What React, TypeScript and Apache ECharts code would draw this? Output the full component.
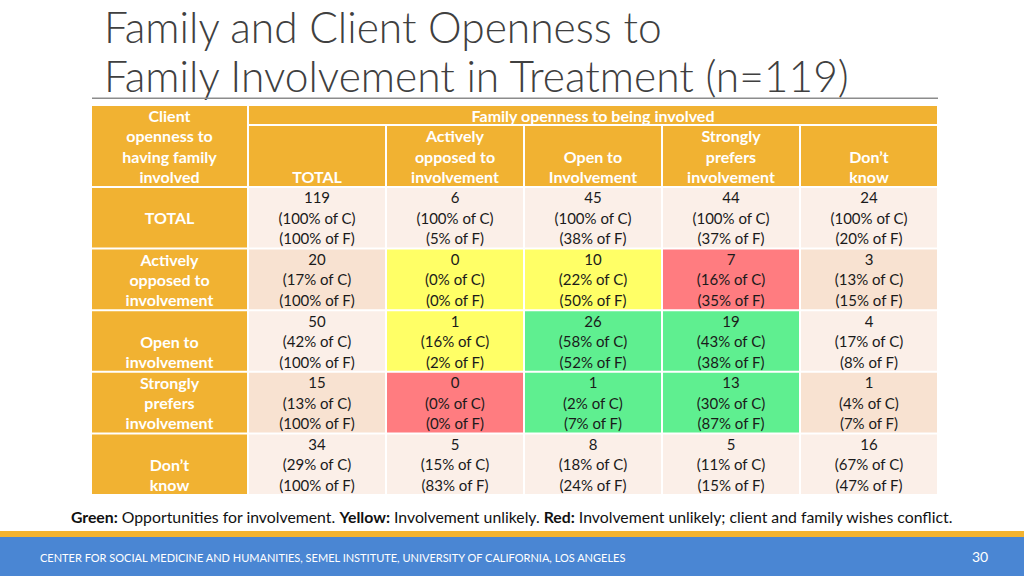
import React, { useEffect, useRef } from "react";
import * as echarts from "echarts";

// ---------- data ----------
const titleLines = ["Family and Client Openness to", "Family Involvement in Treatment (n=119)"];
const cornerLabel = "Client\nopenness to\nhaving family\ninvolved";
const topHeaderLabel = "Family openness to being involved";
const columnKeys = ["TOTAL", "Actively opposed", "Open", "Strongly prefers", "Don't know"];
const columnLabels = ["\n\nTOTAL", "Actively\nopposed to\ninvolvement", "\nOpen to\nInvolvement", "Strongly\nprefers\ninvolvement", "\nDon\u2019t\nknow"];
const rowKeys = ["TOTAL", "Actively opposed", "Open", "Strongly prefers", "Don't know"];
const rowLabels = ["TOTAL", "Actively\nopposed to\ninvolvement", "\nOpen to\ninvolvement", "Strongly\nprefers\ninvolvement", "\nDon\u2019t\nknow"];

const counts = [
  [119, 6, 45, 44, 24],
  [20, 0, 10, 7, 3],
  [50, 1, 26, 19, 4],
  [15, 0, 1, 13, 1],
  [34, 5, 8, 5, 16],
];
const pctOfClient = [
  [100, 100, 100, 100, 100],
  [17, 0, 22, 16, 13],
  [42, 16, 58, 43, 17],
  [13, 0, 2, 30, 4],
  [29, 15, 18, 11, 67],
];
const pctOfFamily = [
  [100, 5, 38, 37, 20],
  [100, 0, 50, 35, 15],
  [100, 2, 52, 38, 8],
  [100, 0, 7, 87, 7],
  [100, 83, 24, 15, 47],
];
// G = opportunity, Y = unlikely, R = conflict, "" = none
const flags = [
  ["", "", "", "", ""],
  ["", "Y", "Y", "R", ""],
  ["", "Y", "G", "G", ""],
  ["", "R", "G", "G", ""],
  ["", "", "", "", ""],
];
const noteParts = [
  { key: "Green:", text: " Opportunities for involvement. " },
  { key: "Yellow:", text: " Involvement unlikely. " },
  { key: "Red:", text: " Involvement unlikely; client and family wishes conflict." },
];
const footerText = "CENTER FOR SOCIAL MEDICINE AND HUMANITIES, SEMEL INSTITUTE, UNIVERSITY OF CALIFORNIA, LOS ANGELES";
const pageNumber = "30";

// ---------- styles ----------
const FONT = "Lato, 'Open Sans', sans-serif";
const GOLD = "#F1B232";
const FLAG_COLORS: Record<string, string> = { G: "#5FEF90", Y: "#FFFF66", R: "#FF7C80" };
const BAND_LIGHT = "#FBEFE8";
const BAND_DARK = "#F8E2D1";

function cellRenderer(getFill: (x: number, y: number) => string, getText: (x: number, y: number) => string, textStyle: any) {
  return (params: any, api: any) => {
    const xi = api.value(0);
    const yi = api.value(1);
    const c = api.coord([xi, yi]);
    const s = api.size([1, 1]);
    return {
      type: "group",
      children: [
        {
          type: "rect",
          shape: { x: c[0] - s[0] / 2 + 1, y: c[1] - s[1] / 2 + 1, width: s[0] - 2, height: s[1] - 2 },
          style: { fill: getFill(xi, yi) },
        },
        {
          type: "text",
          style: Object.assign(
            { text: getText(xi, yi), x: c[0], y: c[1], align: "center", verticalAlign: "middle" },
            textStyle
          ),
        },
      ],
    };
  };
}

export default function App() {
  const ref = useRef<HTMLDivElement>(null);
  useEffect(() => {
    if (!ref.current) return;
    const chart = echarts.init(ref.current, null, { renderer: "svg" });

    const dataCells: number[][] = [];
    rowKeys.forEach((_, r) => columnKeys.forEach((_, c) => dataCells.push([c, r])));

    const headText = { fill: "#FFFFFF", fontFamily: FONT, fontWeight: "bold", fontSize: 16, lineHeight: 20.3 };
    const bodyText = { fill: "#1A1A1A", fontFamily: FONT, fontSize: 15, lineHeight: 20.5 };
    const titleStyle = { fontFamily: FONT, fontWeight: 300, fontSize: 42.5, fill: "#404040", align: "left", verticalAlign: "middle" };

    const option: any = {
      animation: false,
      grid: [
        { left: 248, top: 187, width: 690, height: 308 },
        { left: 91, top: 187, width: 157, height: 308 },
        { left: 248, top: 125, width: 690, height: 62 },
        { left: 248, top: 105, width: 690, height: 20 },
        { left: 91, top: 105, width: 157, height: 82 },
      ],
      xAxis: [
        { type: "category", data: columnKeys, gridIndex: 0, show: false },
        { type: "category", data: ["row"], gridIndex: 1, show: false },
        { type: "category", data: columnKeys, gridIndex: 2, show: false },
        { type: "category", data: ["top"], gridIndex: 3, show: false },
        { type: "category", data: ["corner"], gridIndex: 4, show: false },
      ],
      yAxis: [
        { type: "category", data: rowKeys, gridIndex: 0, inverse: true, show: false },
        { type: "category", data: rowKeys, gridIndex: 1, inverse: true, show: false },
        { type: "category", data: ["col"], gridIndex: 2, show: false },
        { type: "category", data: ["top"], gridIndex: 3, show: false },
        { type: "category", data: ["corner"], gridIndex: 4, show: false },
      ],
      series: [
        {
          type: "custom",
          xAxisIndex: 0,
          yAxisIndex: 0,
          data: dataCells,
          renderItem: cellRenderer(
            (x, y) => FLAG_COLORS[flags[y][x]] || (y % 2 === 1 ? BAND_DARK : BAND_LIGHT),
            (x, y) => `${counts[y][x]}\n(${pctOfClient[y][x]}% of C)\n(${pctOfFamily[y][x]}% of F)`,
            bodyText
          ),
        },
        {
          type: "custom",
          xAxisIndex: 1,
          yAxisIndex: 1,
          data: rowKeys.map((_, r) => [0, r]),
          renderItem: cellRenderer(() => GOLD, (x, y) => rowLabels[y], headText),
        },
        {
          type: "custom",
          xAxisIndex: 2,
          yAxisIndex: 2,
          data: columnKeys.map((_, c) => [c, 0]),
          renderItem: cellRenderer(() => GOLD, (x) => columnLabels[x], headText),
        },
        {
          type: "custom",
          xAxisIndex: 3,
          yAxisIndex: 3,
          data: [[0, 0]],
          renderItem: cellRenderer(() => GOLD, () => topHeaderLabel, headText),
        },
        {
          type: "custom",
          xAxisIndex: 4,
          yAxisIndex: 4,
          data: [[0, 0]],
          renderItem: cellRenderer(() => GOLD, () => cornerLabel, headText),
        },
      ],
      graphic: [
        { type: "text", x: 104, y: 26.5, style: Object.assign({ text: titleLines[0] }, titleStyle) },
        { type: "text", x: 104, y: 75, style: Object.assign({ text: titleLines[1] }, titleStyle) },
        { type: "rect", shape: { x: 92, y: 97.5, width: 846, height: 1.5 }, style: { fill: "#8C8C8C" } },
        {
          type: "text",
          left: "center",
          top: 508,
          style: {
            rich: {
              b: { fontFamily: FONT, fontWeight: "bold", fontSize: 15.8, fill: "#111" },
              n: { fontFamily: FONT, fontSize: 15.8, fill: "#111" },
            },
            text: noteParts.map((p) => `{b|${p.key}}{n|${p.text}}`).join(""),
          },
        },
        { type: "rect", shape: { x: 0, y: 531, width: 1024, height: 7 }, style: { fill: "#F3B32F" } },
        { type: "rect", shape: { x: 0, y: 537, width: 1024, height: 39 }, style: { fill: "#4A86D3" } },
        {
          type: "text",
          left: 40,
          top: 552,
          style: { text: footerText, fontFamily: FONT, fontSize: 11, fill: "#FFFFFF" },
        },
        {
          type: "text",
          left: 972,
          top: 549,
          style: { text: pageNumber, fontFamily: FONT, fontSize: 14, fill: "#FFFFFF" },
        },
      ],
    };
    chart.setOption(option);
    return () => chart.dispose();
  }, []);
  return <div ref={ref} style={{ position: "fixed", left: 0, top: 0, width: 1024, height: 576, background: "#fff" }} />;
}
